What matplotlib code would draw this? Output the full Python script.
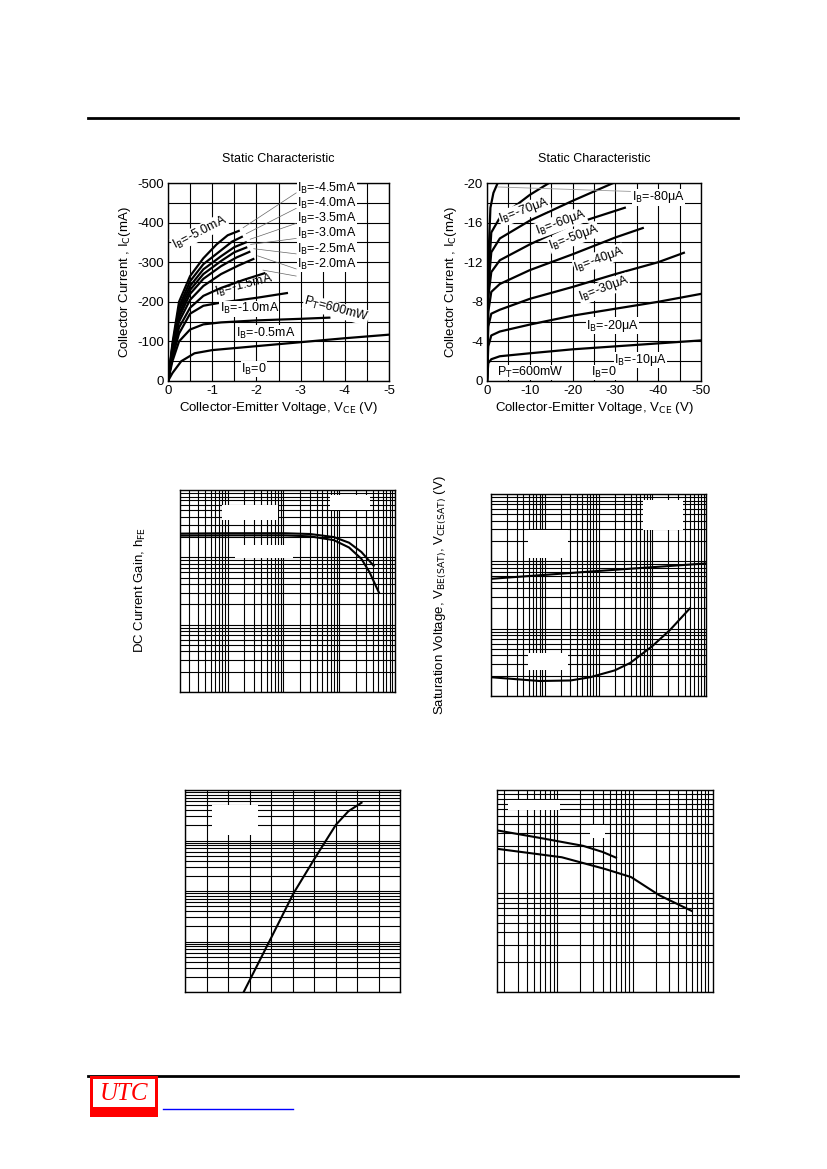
import numpy as np
import matplotlib
matplotlib.use("Agg")
import matplotlib.pyplot as plt
from matplotlib.patches import Rectangle
from matplotlib.lines import Line2D

plt.rcParams['font.family'] = ['Liberation Sans', 'DejaVu Sans']

W, H = 827, 1169
fig = plt.figure(figsize=(8.27, 11.69), dpi=100)

def ax_px(x0, y0, x1, y1):
    return fig.add_axes([x0 / W, 1 - y1 / H, (x1 - x0) / W, (y1 - y0) / H])

def rect_px(x0, y0, x1, y1, **kw):
    fig.add_artist(Rectangle((x0 / W, 1 - y1 / H), (x1 - x0) / W, (y1 - y0) / H,
                             transform=fig.transFigure, zorder=10, **kw))

def line_px(x0, y0, x1, y1, **kw):
    fig.add_artist(Line2D([x0 / W, x1 / W], [1 - y0 / H, 1 - y1 / H],
                          transform=fig.transFigure, **kw))

# ---------------- data: chart 1 (IB in mA, VCE V, IC mA, shown negative) ----
c1_labels = ["0", "0.5", "1.0", "1.5", "2.0", "2.5", "3.0", "3.5", "4.0", "5.0"]
c1_x = [
    [0, 0.1, 0.3, 0.6, 1, 2, 3, 4, 5],
    [0, 0.1, 0.25, 0.5, 0.8, 1.2, 2, 3, 3.65],
    [0, 0.1, 0.25, 0.5, 0.8, 1.2, 2, 2.69],
    [0, 0.1, 0.25, 0.5, 0.8, 1.2, 1.7, 2.18],
    [0, 0.1, 0.25, 0.5, 0.8, 1.2, 1.6, 1.93],
    [0, 0.1, 0.25, 0.5, 0.8, 1.2, 1.55, 1.84],
    [0, 0.1, 0.25, 0.5, 0.8, 1.2, 1.5, 1.77],
    [0, 0.1, 0.25, 0.5, 0.8, 1.2, 1.5, 1.76],
    [0, 0.1, 0.25, 0.5, 0.8, 1.2, 1.45, 1.67],
    [0, 0.1, 0.25, 0.5, 0.8, 1.1, 1.35, 1.6],
]
c1_y = [
    [0, 20, 50, 70, 78, 88, 98, 108, 117],
    [0, 50, 100, 130, 143, 148, 153, 157, 160],
    [0, 60, 120, 170, 190, 198, 210, 222],
    [0, 65, 135, 185, 215, 235, 255, 272],
    [0, 70, 150, 205, 240, 270, 292, 308],
    [0, 75, 160, 220, 258, 290, 312, 326],
    [0, 80, 170, 230, 270, 303, 325, 337],
    [0, 85, 180, 240, 282, 315, 338, 350],
    [0, 88, 188, 252, 295, 330, 352, 364],
    [0, 95, 200, 265, 310, 345, 368, 379],
]

# ---------------- data: chart 2 (IB in uA, VCE V, IC mA) ----
c2_x = [
    [0, 0.3, 1, 3, 10, 20, 30, 40, 50],
    [0, 0.3, 1, 3, 10, 20, 30, 40, 50],
    [0, 0.3, 1, 3, 10, 20, 30, 40, 46],
    [0, 0.3, 1, 3, 10, 20, 30, 36.4],
    [0, 0.3, 1, 3, 10, 20, 32.2],
    [0, 0.3, 1, 3, 10, 20, 29.5],
    [0, 0.3, 1, 3, 10, 14.5],
    [0, 0.3, 0.8, 1.5, 2.5],
]
c2_y = [
    [0, 1.8, 2.2, 2.5, 2.8, 3.2, 3.5, 3.8, 4.1],
    [0, 3.5, 4.6, 5.0, 5.7, 6.6, 7.3, 8.0, 8.8],
    [0, 5.5, 6.8, 7.2, 8.3, 9.5, 10.8, 12.0, 12.95],
    [0, 7, 9, 9.8, 11.2, 12.8, 14.5, 15.45],
    [0, 8.5, 11, 12.2, 13.8, 15.8, 17.5],
    [0, 9.5, 13, 14.4, 16.2, 18.2, 20],
    [0, 10, 15, 16.5, 18.8, 20],
    [0, 12, 17.5, 19, 20],
]

# ---------------- data: log charts ----
hfe_x1 = [0.14, 1, 10, 30, 80, 150, 250, 415]
hfe_y1 = [225, 228, 228, 222, 200, 165, 120, 75]
hfe_x2 = [0.14, 1, 10, 30, 80, 150, 250, 350, 515]
hfe_y2 = [210, 212, 212, 205, 180, 140, 95, 60, 30]

vbe_x = [0.1, 10, 1000]
vbe_y = [0.55, 0.72, 0.93]
vce_x = [0.1, 0.8, 3, 7, 20, 39, 100, 215, 500]
vce_y = [0.019, 0.0167, 0.017, 0.019, 0.024, 0.031, 0.055, 0.096, 0.2]

c5_x = [2.73, 3.97, 5.04, 6.03, 7.02, 7.6, 8.21]
c5_y = [0.1, 1.1, 8.9, 44, 205, 380, 560]

c6_x1 = [1.6, 6, 22, 40, 60]
c6_y1 = [43, 36, 30, 26, 22.8]
c6_x2 = [1.6, 11.5, 43, 95, 224, 600]
c6_y2 = [28, 23, 17.5, 14.5, 9.5, 6.6]

# ---------------- page decorations ----
line_px(88, 118, 738, 118, color='black', lw=2)
line_px(88, 1076, 738, 1076, color='black', lw=2)
rect_px(90, 1076, 158, 1117, facecolor='red', edgecolor='none')
rect_px(93, 1079, 155, 1107, facecolor='white', edgecolor='none')
fig.text(124 / W, 1 - 1094 / H, "UTC", color='red', fontsize=18, style='italic',
         family='Liberation Serif', ha='center', va='center', zorder=11)
line_px(163, 1109, 293, 1109, color='blue', lw=1)

def tick_style(ax):
    ax.tick_params(direction='in', length=0, labelsize=9.5, pad=3)
    for s in ax.spines.values():
        s.set_linewidth(1)

FS = 9

# ---------------- chart 1 ----
ax1 = ax_px(168, 183, 389, 381)
for xs, ys in zip(c1_x, c1_y):
    ax1.plot(xs, ys, color='black', lw=1.6)
ax1.set_xlim(0, 5)
ax1.set_ylim(0, 500)
ax1.set_xticks([0, 1, 2, 3, 4, 5])
ax1.set_xticks(np.arange(0.5, 5, 1), minor=True)
ax1.set_yticks([0, 100, 200, 300, 400, 500])
ax1.set_yticks(np.arange(50, 500, 100), minor=True)
ax1.grid(True, which='both', color='black', lw=0.8)
ax1.set_xticklabels(["0", "-1", "-2", "-3", "-4", "-5"])
ax1.set_yticklabels(["0", "-100", "-200", "-300", "-400", "-500"])
tick_style(ax1)
ax1.tick_params(which='minor', length=0)
ax1.set_title("Static Characteristic", fontsize=9, pad=15)
ax1.set_xlabel("Collector-Emitter Voltage, V$_{\\mathrm{CE}}$ (V)", fontsize=9.5, labelpad=2)
ax1.set_ylabel("Collector Current , I$_{\\mathrm{C}}$(mA)", fontsize=9.5, labelpad=3)
lab_y = {"4.5": 487, "4.0": 448, "3.5": 410, "3.0": 372, "2.5": 333, "2.0": 295}
ends = [(1.6, 379), (1.67, 364), (1.76, 350), (1.77, 337), (1.84, 326), (1.93, 308)]
for (k, yv), (ex, ey) in zip(lab_y.items(), ends):
    ax1.text(2.92, yv, "I$_{\\mathrm{B}}$=-%smA" % k, fontsize=FS, va='center', ha='left',
             bbox=dict(facecolor='white', edgecolor='none', pad=0.3))
    ax1.plot([2.9, ex + 0.1], [yv - 12, ey + 8], color='0.4', lw=0.5)
ax1.plot([2.15, 2.9], [280, 265], color='0.4', lw=0.5)
ax1.text(0.72, 375, "I$_{\\mathrm{B}}$=-5.0mA", fontsize=FS, rotation=27, ha='center', va='center',
         bbox=dict(facecolor='white', edgecolor='none', pad=0.2))
ax1.text(1.72, 241, "I$_{\\mathrm{B}}$=-1.5mA", fontsize=FS, rotation=14, ha='center', va='center')
ax1.text(1.84, 182, "I$_{\\mathrm{B}}$=-1.0mA", fontsize=FS, ha='center', va='center',
         bbox=dict(facecolor='white', edgecolor='none', pad=0.2))
ax1.text(2.22, 121, "I$_{\\mathrm{B}}$=-0.5mA", fontsize=FS, ha='center', va='center',
         bbox=dict(facecolor='white', edgecolor='none', pad=0.2))
ax1.text(1.95, 30, "I$_{\\mathrm{B}}$=0", fontsize=FS, ha='center', va='center',
         bbox=dict(facecolor='white', edgecolor='none', pad=0.2))
ax1.text(3.8, 180, "P$_{\\mathrm{T}}$=600mW", fontsize=FS, rotation=-15, ha='center', va='center',
         bbox=dict(facecolor='white', edgecolor='none', pad=0.2))

# ---------------- chart 2 ----
ax2 = ax_px(487, 183, 701, 381)
for xs, ys in zip(c2_x, c2_y):
    ax2.plot(xs, ys, color='black', lw=1.6)
ax2.set_xlim(0, 50)
ax2.set_ylim(0, 20)
ax2.set_xticks([0, 10, 20, 30, 40, 50])
ax2.set_xticks(np.arange(5, 50, 10), minor=True)
ax2.set_yticks([0, 4, 8, 12, 16, 20])
ax2.set_yticks(np.arange(2, 20, 4), minor=True)
ax2.grid(True, which='both', color='black', lw=0.8)
ax2.set_xticklabels(["0", "-10", "-20", "-30", "-40", "-50"])
ax2.set_yticklabels(["0", "-4", "-8", "-12", "-16", "-20"])
tick_style(ax2)
ax2.tick_params(which='minor', length=0)
ax2.set_title("Static Characteristic", fontsize=9, pad=15)
ax2.set_xlabel("Collector-Emitter Voltage, V$_{\\mathrm{CE}}$ (V)", fontsize=9.5, labelpad=2)
ax2.set_ylabel("Collector Current , I$_{\\mathrm{C}}$(mA)", fontsize=9.5, labelpad=3)
ax2.plot([2.5, 33.5], [19.6, 19.15], color='0.6', lw=0.6)
ax2.text(33.9, 18.55, "I$_{\\mathrm{B}}$=-80μA", fontsize=FS, va='center',
         bbox=dict(facecolor='white', edgecolor='none', pad=0.2))
for xv, yv, t in [(8.7, 17.2, "70"), (17.2, 16.0, "60"), (20.3, 14.5, "50"),
                  (26.2, 12.3, "40"), (27.3, 9.3, "30")]:
    ax2.text(xv, yv, "I$_{\\mathrm{B}}$=-%sμA" % t, fontsize=FS, rotation=20, ha='center', va='center',
             bbox=dict(facecolor='white', edgecolor='none', pad=0.1))
ax2.text(29.3, 5.6, "I$_{\\mathrm{B}}$=-20μA", fontsize=FS, ha='center', va='center',
         bbox=dict(facecolor='white', edgecolor='none', pad=0.2))
ax2.text(35.9, 2.1, "I$_{\\mathrm{B}}$=-10μA", fontsize=FS, ha='center', va='center',
         bbox=dict(facecolor='white', edgecolor='none', pad=0.2))
ax2.text(10.2, 0.85, "P$_{\\mathrm{T}}$=600mW", fontsize=FS, ha='center', va='center',
         bbox=dict(facecolor='white', edgecolor='none', pad=0.2))
ax2.text(27.3, 0.85, "I$_{\\mathrm{B}}$=0", fontsize=FS, ha='center', va='center',
         bbox=dict(facecolor='white', edgecolor='none', pad=0.2))

def log_grid(ax, xlog=True):
    ax.set_yscale('log')
    if xlog:
        ax.set_xscale('log')
    ax.grid(True, which='both', color='black', lw=0.8)
    ax.tick_params(which='both', length=0, labelleft=False, labelbottom=False)
    for s in ax.spines.values():
        s.set_linewidth(1)

# ---------------- chart 3 ----
ax3 = ax_px(180, 490, 395, 692)
ax3.plot(hfe_x1, hfe_y1, color='black', lw=1.5)
ax3.plot(hfe_x2, hfe_y2, color='black', lw=1.5)
log_grid(ax3)
ax3.set_xlim(0.14, 1000)
ax3.set_ylim(1, 1000)
fig.text(140 / W, 1 - 590 / H, "DC Current Gain, h$_{\\mathrm{FE}}$", rotation=90, fontsize=9.5,
         ha='center', va='center')
rect_px(222, 505, 278, 520, facecolor='white', edgecolor='none')
rect_px(330, 495, 370, 510, facecolor='white', edgecolor='none')
rect_px(235, 545, 293, 558, facecolor='white', edgecolor='none')

# ---------------- chart 4 ----
ax4 = ax_px(491, 494, 706, 696)
ax4.plot(vbe_x, vbe_y, color='black', lw=1.5)
ax4.plot(vce_x, vce_y, color='black', lw=1.5)
log_grid(ax4)
ax4.set_xlim(0.1, 1000)
ax4.set_ylim(0.01, 10)
fig.text(441 / W, 1 - 595 / H, "Saturation Voltage, V$_{\\mathrm{BE(SAT)}}$, V$_{\\mathrm{CE(SAT)}}$ (V)",
         rotation=90, fontsize=9.5, ha='center', va='center')
rect_px(643, 500, 683, 530, facecolor='white', edgecolor='none')
rect_px(528, 530, 568, 558, facecolor='white', edgecolor='none')
rect_px(528, 653, 568, 670, facecolor='white', edgecolor='none')

# ---------------- chart 5 ----
ax5 = ax_px(185, 790, 400, 992)
ax5.plot(c5_x, c5_y, color='black', lw=1.5)
log_grid(ax5, xlog=False)
ax5.set_xlim(0, 10)
ax5.set_xticks(np.arange(0, 11, 1))
ax5.set_ylim(0.1, 1000)
rect_px(212, 805, 258, 835, facecolor='white', edgecolor='none')

# ---------------- chart 6 ----
ax6 = ax_px(497, 790, 713, 992)
ax6.plot(c6_x1, c6_y1, color='black', lw=1.5)
ax6.plot(c6_x2, c6_y2, color='black', lw=1.5)
log_grid(ax6)
ax6.set_xlim(1.6, 1150)
ax6.set_ylim(1, 110)
rect_px(508, 800, 560, 810, facecolor='white', edgecolor='none')
rect_px(590, 825, 605, 838, facecolor='white', edgecolor='none')

fig.savefig("out.png", dpi=100)
